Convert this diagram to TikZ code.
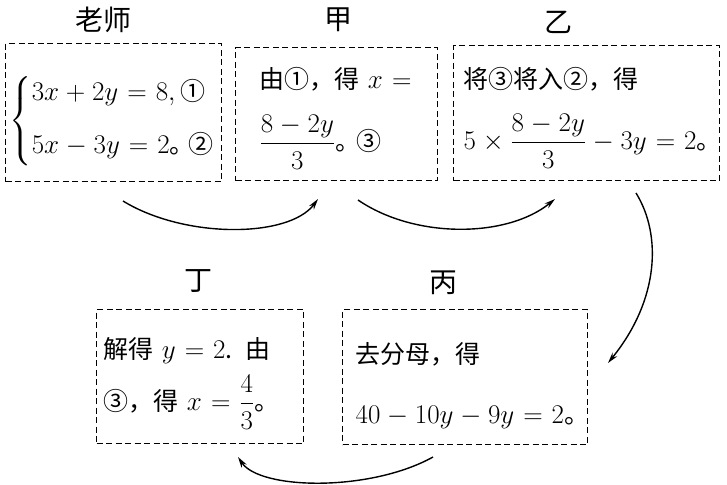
\RequirePackage{fix-cm}
\documentclass[tikz,border=0pt]{standalone}
\usepackage{amsmath}
\usepackage{fontspec}
\setmainfont{Noto Sans CJK SC}
\DeclareMathSizes{25}{27}{19}{14}
\thickmuskip=6mu
\medmuskip=4.5mu
\binoppenalty=10000
\relpenalty=10000
\lineskiplimit=-200pt
\usetikzlibrary{arrows.meta,positioning}

\begin{document}
\begin{tikzpicture}[
x=1pt, y=-1pt,
box/.style={draw, dashed, dash pattern=on 6pt off 3.5pt, line width=1.3pt, anchor=north west, align=left, inner ysep=0pt},
gap/.style={font=\fontsize{25}{#1}\selectfont},
lbl/.style={font=\fontsize{28}{32}\selectfont},
arrow/.style={-{Stealth[length=11pt,width=6pt]}, line width=1.4pt}
]
\useasboundingbox (0,0) rectangle (727,484);
% top row
\node[box, gap=30pt, inner xsep=4pt, text width=208pt, text height=84pt, text depth=54pt] (teacher) at (5,43)
  {$\left\{\begin{array}{@{}l@{}}3x+2y=8,\text{①}\\[23pt]5x-3y=2\text{。\kern-6pt②}\end{array}\right.$};
\node[box, gap=62pt, inner xsep=24pt, text width=154pt, text height=41pt, text depth=92pt] (jia) at (235,47)
  {由①，得 $x=$\\$\dfrac{8-2y}{3}$。\kern-4pt③};
\node[box, gap=61pt, inner xsep=10pt, text width=246pt, text height=43pt, text depth=92pt] (yi) at (453,45)
  {将③将入②，得\\$5\times\dfrac{8-2y}{3}-3y=2$。};
% bottom row
\node[box, gap=52pt, inner xsep=7pt, text width=193pt, text height=49pt, text depth=85pt] (ding) at (96,309)
  {解得 $y=2$. 由\\③，得 $x=\dfrac{4}{3}$。};
\node[box, gap=60pt, inner xsep=13pt, text width=219pt, text height=54pt, text depth=81pt] (bing) at (342,309)
  {去分母，得\\$40-10y-9y=2$。};
% labels
\node[lbl] (teacherlbl) at (103,20) {老师};
\node[lbl] (jialbl) at (338,20) {甲};
\node[lbl] (yilbl) at (558,22) {乙};
\node[lbl] (dinglbl) at (198,281) {丁};
\node[lbl] (binglbl) at (443,283) {丙};
% connectors
\coordinate (a1s) at (123,201);
\coordinate (a1e) at (318,199);
\coordinate (a2s) at (358,200);
\coordinate (a2e) at (555,199);
\coordinate (a3s) at (636,193);
\coordinate (a3e) at (608,363);
\coordinate (a4s) at (433,457);
\coordinate (a4e) at (238,457);
\draw[arrow] (a1s) .. controls (185,239) and (289,238) .. (a1e);
\draw[arrow] (a2s) .. controls (415,239) and (507,238) .. (a2e);
\draw[arrow] (a3s) .. controls (662,235) and (659,300) .. (a3e);
\draw[arrow] (a4s) .. controls (370,492) and (260,490) .. (a4e);
\end{tikzpicture}
\end{document}
